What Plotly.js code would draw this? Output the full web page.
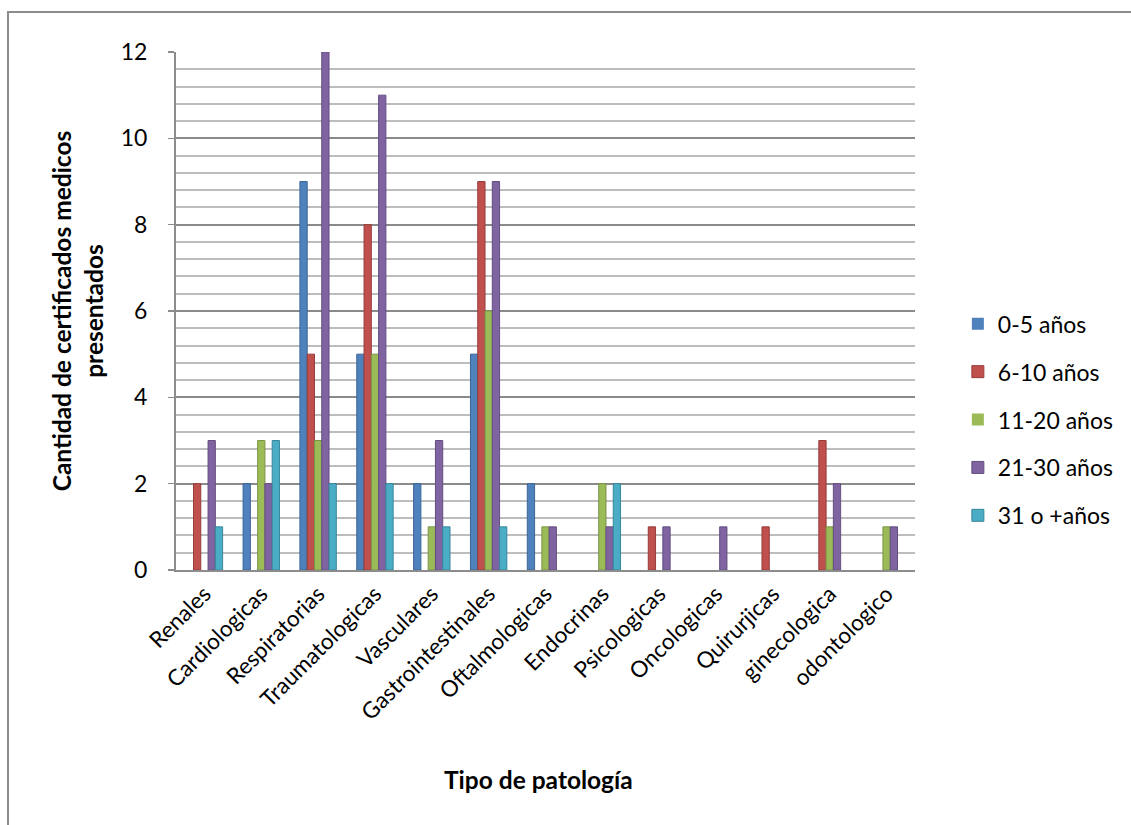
<!DOCTYPE html>
<html>
<head>
<meta charset="utf-8">
<script src="https://cdn.plot.ly/plotly-3.0.1.min.js"></script>
<style>
html,body{margin:0;padding:0;overflow:hidden;background:#fff;}
#wrap{position:relative;width:1131px;height:825px;}
#chart{width:1131px;height:825px;}
#frame{position:absolute;left:7px;top:11px;width:1200px;height:900px;border:2px solid #8c8c8c;pointer-events:none;}
</style>
</head>
<body>
<div id="wrap"><div id="chart"></div><div id="frame"></div></div>
<script>
const categories = ["Renales","Cardiologicas","Respiratorias","Traumatologicas","Vasculares","Gastrointestinales","Oftalmologicas","Endocrinas","Psicologicas","Oncologicas","Quirurjicas","ginecologica","odontologico"];
const seriesNames = ["0-5 años","6-10 años","11-20 años","21-30 años","31 o +años"];
const s0_5   = [0,2,9,5,2,5,2,0,0,0,0,0,0];
const s6_10  = [2,0,5,8,0,9,0,0,1,0,1,3,0];
const s11_20 = [0,3,3,5,1,6,1,2,0,0,0,1,1];
const s21_30 = [3,2,12,11,3,9,1,1,1,1,0,2,1];
const s31    = [1,3,2,2,1,1,0,2,0,0,0,0,0];
const yTicks = [0,2,4,6,8,10,12];
const xTitle = 'Tipo de patología';
const yTitle = 'Cantidad de certificados medicos<br>presentados';

const colors = ["#4F81BD","#C0504D","#9BBB59","#8064A2","#4BACC6"];
const edges  = ["#3a6597","#963c3a","#7a9446","#634e80","#37879c"];
const allValues = [s0_5,s6_10,s11_20,s21_30,s31];

const traces = allValues.map((vals,i)=>({
  type:'bar',
  name:seriesNames[i],
  x:categories,
  y:vals,
  legendgroup:'g'+i,
  marker:{color:colors[i], line:{color:edges[i], width:vals.map(v=>v>0?1:0)}},
  hoverinfo:'x+y+name'
}));

const font = "Lato, 'Open Sans', sans-serif";
const layout = {
  width:1131, height:825,
  margin:{l:176, r:213, t:52, b:255},
  paper_bgcolor:'#ffffff', plot_bgcolor:'#ffffff',
  barmode:'group',
  bargap:0.36,
  bargroupgap:0,
  font:{family:font, color:'#000', size:18},
  showlegend:true,
  legend:{x:1.058, y:0.29, xanchor:'left', yanchor:'middle', font:{size:23, family:font}, tracegroupgap:15, itemwidth:30, bgcolor:'rgba(0,0,0,0)'},
  xaxis:{
    type:'category',
    range:[-0.5,12.5],
    tickangle:-45,
    tickfont:{size:22.5, family:font},
    showline:true, linecolor:'#8c8c8c', linewidth:2,
    ticks:'', showgrid:false,
    automargin:false
  },
  yaxis:{
    range:[0,12],
    tickvals:yTicks,
    ticktext:yTicks.map(String),
    tickfont:{size:23, family:font},
    ticks:'outside', ticklen:6, tickcolor:'#8c8c8c', tickwidth:1.5,
    ticklabelstandoff:16,
    showline:true, linecolor:'#8c8c8c', linewidth:2,
    showgrid:true, gridcolor:'#8a8a8a', gridwidth:2,
    minor:{dtick:0.4, tick0:0, showgrid:true, gridcolor:'#bdbdbd', gridwidth:2, ticks:''},
    zeroline:false,
    automargin:false,
    title:{text:yTitle, font:{size:24.5, family:font, weight:'bold'}, standoff:10}
  },
  annotations:[{
    text:xTitle, xref:'paper', yref:'paper', x:0.49, y:-0.405,
    xanchor:'center', yanchor:'middle', showarrow:false,
    font:{size:24.5, family:font, weight:'bold', color:'#000'}
  }]
};
Plotly.newPlot('chart', traces, layout, {displayModeBar:false, staticPlot:true});
</script>
</body>
</html>
